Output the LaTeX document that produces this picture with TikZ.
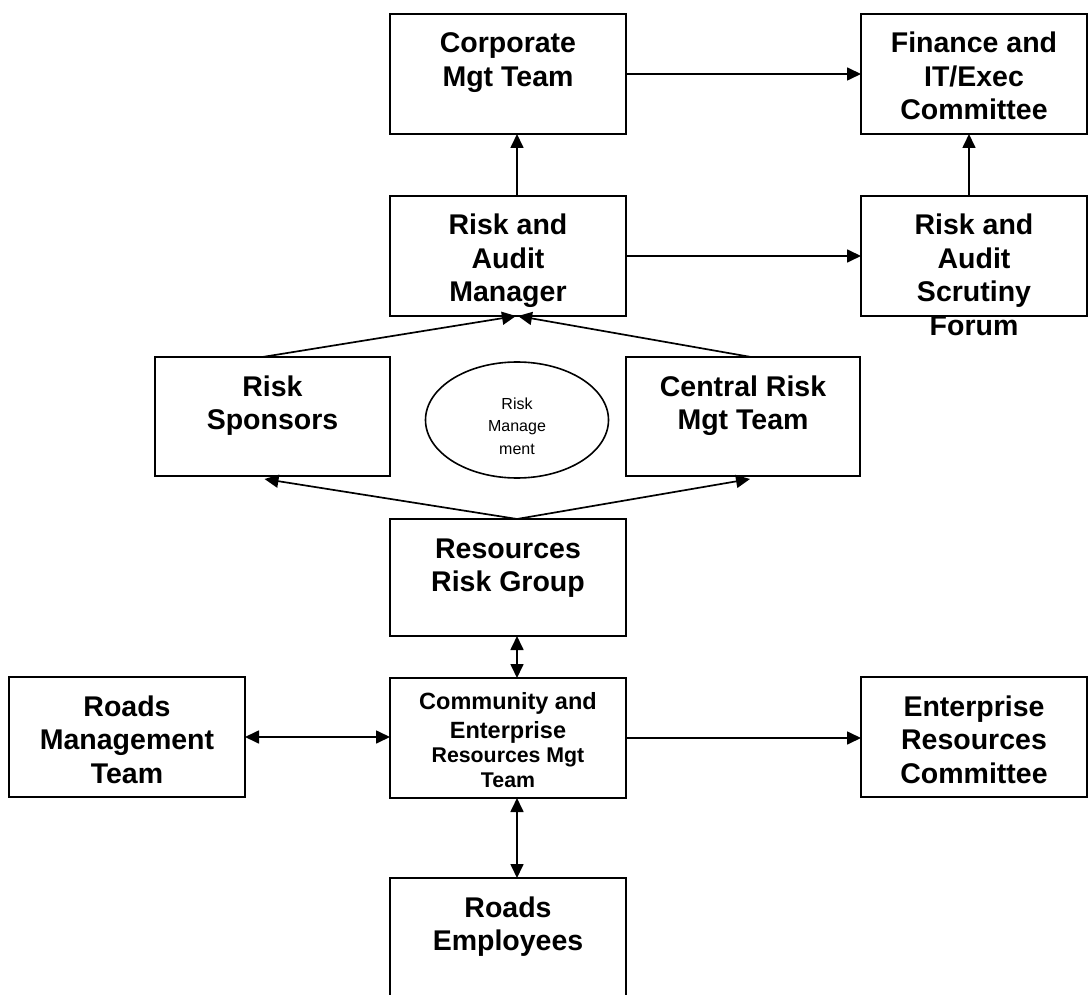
\documentclass[tikz,border=0pt]{standalone}
\usepackage{fontspec}
\setmainfont{Liberation Sans}
\usetikzlibrary{arrows.meta,shapes.geometric}
\newcommand{\boxtxt}[3]{\parbox[c][#2][t]{#1}{\centering\rule{0pt}{39pt}#3}}
\begin{document}
\begin{tikzpicture}[x=1pt,y=-1pt,
  box/.style={draw=black,line width=2pt,inner sep=0pt,outer sep=0pt,
    font=\fontsize{28.5pt}{33.5pt}\selectfont\bfseries},
  conn/.style={line width=1.7pt,-{Triangle[length=14pt,width=13pt]}},
  dconn/.style={line width=1.7pt,{Triangle[length=14pt,width=13pt]}-{Triangle[length=14pt,width=13pt]}}]
\useasboundingbox (0,0) rectangle (1088,995);
\clip (0,0) rectangle (1088,995);
% boxes
\node[box] (corp) at (508,74) {\boxtxt{236pt}{120pt}{Corporate\\Mgt Team}};
\node[box] (fin) at (974,74) {\boxtxt{226pt}{120pt}{Finance and\\IT/Exec\\Committee}};
\node[box] (ram) at (508,256) {\boxtxt{236pt}{120pt}{Risk and\\Audit\\Manager}};
\node[box] (rasf) at (974,256) {\boxtxt{226pt}{120pt}{Risk and\\Audit\\Scrutiny\\Forum}};
\node[box] (spons) at (272.5,416.5) {\boxtxt{235pt}{119pt}{Risk\\Sponsors}};
\node[box] (crmt) at (743,416.5) {\boxtxt{234pt}{119pt}{Central Risk\\Mgt Team}};
\node[draw=black,line width=1.6pt,ellipse,inner sep=0pt,minimum width=183pt,minimum height=116pt,
  align=center,font=\fontsize{16pt}{22.5pt}\selectfont] (rm) at (517,420)
  {\rule{0pt}{24pt}Risk\\Manage\\ment};
\node[box] (rrg) at (508,577.5) {\boxtxt{236pt}{117pt}{Resources\\Risk Group}};
\node[box] (cerm) at (508,738) {\parbox[c][120pt][t]{236pt}{\centering
  {\fontsize{23.5pt}{29pt}\selectfont\rule{0pt}{31pt}Community and\\Enterprise\par}
  {\fontsize{21.3pt}{24.5pt}\selectfont Resources Mgt\\Team\par}}};
\node[box] (rmt) at (127,737) {\boxtxt{236pt}{120pt}{Roads\\Management\\Team}};
\node[box] (erc) at (974,737) {\boxtxt{226pt}{120pt}{Enterprise\\Resources\\Committee}};
\node[box] (re) at (508,943) {\boxtxt{236pt}{130pt}{Roads\\Employees}};
% connectors
\draw[conn] (corp.east) -- (fin.west);
\draw[conn] ([xshift=9pt]ram.north) -- ([xshift=9pt]corp.south);
\draw[conn] (ram.east) -- (rasf.west);
\draw[conn] ([xshift=-5pt]rasf.north) -- ([xshift=-5pt]fin.south);
\draw[conn] ([xshift=-10pt]spons.north) -- ([xshift=8pt]ram.south);
\draw[conn] ([xshift=8pt]crmt.north) -- ([xshift=10pt]ram.south);
\draw[conn] ([xshift=9pt]rrg.north) -- ([xshift=-8pt,yshift=-3pt]spons.south);
\draw[conn] ([xshift=9pt]rrg.north) -- ([xshift=7pt,yshift=-3pt]crmt.south);
\draw[dconn] ([xshift=9pt]rrg.south) -- ([xshift=9pt]cerm.north);
\draw[dconn] (rmt.east) -- (rmt.east -| cerm.west);
\draw[conn] (cerm.east) -- (cerm.east -| erc.west);
\draw[dconn] ([xshift=9pt]cerm.south) -- ([xshift=9pt]re.north);
\end{tikzpicture}
\end{document}
